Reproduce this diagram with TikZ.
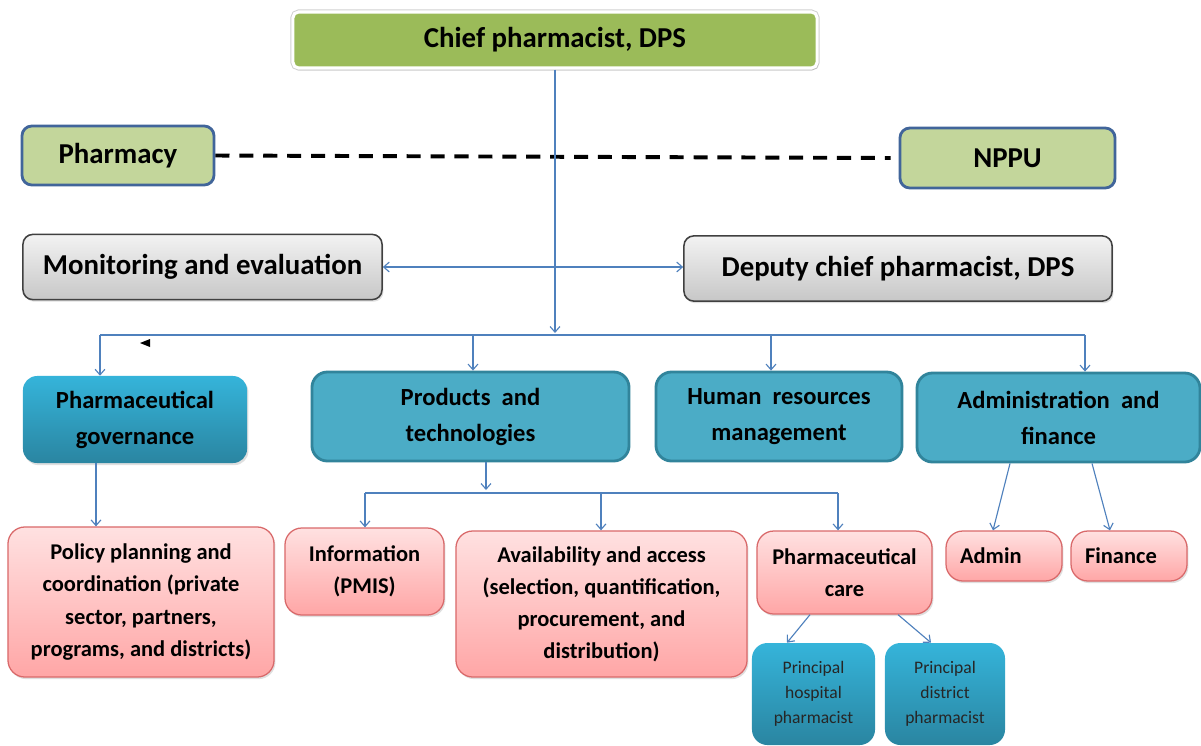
\documentclass[tikz,border=0pt]{standalone}
\usepackage{fontspec}
\setmainfont{Carlito}
\usepackage{tikz}
\usetikzlibrary{arrows.meta}
\usetikzlibrary{shadows}

\definecolor{chiefgreen}{HTML}{9BBB59}
\definecolor{palegreen}{HTML}{C3D69B}
\definecolor{steelline}{HTML}{41659A}
\definecolor{unitblue}{HTML}{4BACC6}
\definecolor{unitline}{HTML}{31849B}
\definecolor{linkblue}{HTML}{4F81BD}
\definecolor{pinktop}{HTML}{FFE1E1}
\definecolor{pinkbot}{HTML}{FFA6A6}
\definecolor{pinkline}{HTML}{D9696A}
\definecolor{cyantop}{HTML}{35B4DA}
\definecolor{cyanbot}{HTML}{2A85A1}

\tikzset{
    softshadow/.style={drop shadow={opacity=0.25, shadow xshift=1pt, shadow yshift=-1.5pt}},
    chiefbox/.style={draw=white, line width=2.2pt, fill=chiefgreen, rounded corners=4pt,
        preaction={draw=black!18, line width=3.6pt},
        minimum width=13.1cm, minimum height=1.4cm, softshadow,
        font=\fontsize{20.5}{24}\selectfont\bfseries},
    linkbox/.style={draw=steelline, line width=2pt, fill=palegreen, rounded corners=7pt,
        minimum height=1.5cm, font=\fontsize{20.5}{24}\selectfont\bfseries},
    greybox/.style={draw=black!75, line width=1.1pt, top color=black!5, bottom color=black!22,
        rounded corners=7pt, minimum height=1.63cm, softshadow,
        font=\fontsize{20.5}{24}\selectfont\bfseries},
    govbox/.style={top color=cyantop, bottom color=cyanbot, rounded corners=10pt,
        minimum width=5.6cm, minimum height=2.175cm, align=center, softshadow,
        font=\fontsize{17.5}{25.6}\selectfont\bfseries},
    unitbox/.style={draw=unitline, line width=2pt, fill=unitblue, rounded corners=11pt,
        minimum height=2.225cm, align=center,
        font=\fontsize{17.5}{25.6}\selectfont\bfseries},
    pinkbox/.style={draw=pinkline, line width=0.9pt, top color=pinktop, bottom color=pinkbot,
        rounded corners=12pt, align=center, softshadow,
        font=\fontsize{16}{22.8}\selectfont\bfseries},
    principalbox/.style={top color=cyantop, bottom color=cyanbot, rounded corners=11pt,
        minimum height=2.55cm, align=center, text=black!85,
        font=\fontsize{12.5}{17.8}\selectfont},
    conn/.style={draw=linkblue, line width=0.8pt},
    dashline/.style={draw=black, line width=2.8pt, dash pattern=on 10pt off 7pt}
}

\begin{document}
\begin{tikzpicture}[x=0.025cm, y=-0.025cm, >={Straight Barb[length=4pt,width=7pt]}]

    \fill[white] (0,0) rectangle (1201,745);
    \clip (0,0) rectangle (1201,745);

    % top of the chart
    \node[chiefbox] (chief) at (555,40) {Chief pharmacist, DPS};
    \node[linkbox, minimum width=4.8cm, minimum height=1.475cm] (pharmacy) at (118,155.5) {Pharmacy};
    \node[linkbox, minimum width=5.375cm] (nppu) at (1007.5,158) {NPPU};
    \node[greybox, minimum width=8.975cm] (monitor) at (202.5,267) {Monitoring and evaluation};
    \node[greybox, minimum width=10.7cm] (deputy) at (898,268.5) {Deputy chief pharmacist, DPS};

    % units
    \node[govbox] (pgov) at (135,419.5) {Pharmaceutical\\governance};
    \node[unitbox, minimum width=7.925cm] (products) at (470.5,416.5) {Products~ and\\technologies};
    \node[unitbox, minimum width=6.15cm] (hr) at (779,416.5) {Human~ resources\\management};
    \node[unitbox, minimum width=7.075cm] (adminfin) at (1058.5,417.5) {Administration~ and\\finance};

    % sections
    \node[pinkbox, minimum width=6.65cm, minimum height=3.75cm] (policy) at (141,602)
        {Policy planning and\\coordination (private\\sector, partners,\\programs, and districts)};
    \node[pinkbox, minimum width=3.975cm, minimum height=2.175cm] (info) at (364.5,571.5) {Information\\(PMIS)};
    \node[pinkbox, minimum width=7.275cm, minimum height=3.65cm] (avail) at (601.5,604)
        {Availability and access\\(selection, quantification,\\procurement, and\\distribution)};
    \node[pinkbox, minimum width=4.375cm, minimum height=2.075cm] (pcare) at (844.5,572.5) {Pharmaceutical\\care};
    \node[pinkbox, align=left, text width=2.2cm, inner xsep=0.35cm, minimum height=1.25cm] (admin) at (1004,556) {Admin};
    \node[pinkbox, align=left, text width=2.2cm, inner xsep=0.35cm, minimum height=1.25cm] (finance) at (1129,556) {Finance};
    \node[principalbox, minimum width=3.075cm] (phosp) at (813.5,694) {Principal\\hospital\\pharmacist};
    \node[principalbox, minimum width=3cm] (pdist) at (945,694) {Principal\\district\\pharmacist};

    % links
    \draw[dashline] (pharmacy.east) -- ([xshift=-0.2cm]nppu.west);
    \draw[conn,->] (chief.south) -- (chief.south |- 0,333);
    \draw[conn,<->] (monitor.east) -- (monitor.east -| deputy.west);
    \coordinate (busL) at (100,335);
    \coordinate (busR) at (1085,335);
    \draw[conn] (busL) -- (busR);
    \foreach \n/\x in {pgov/100, products/473, hr/771, adminfin/1085}
        \draw[conn,->] (\x,335) -- (\n.north -| \x,0);
    \fill (140,343) -- (150,339) -- (150,347) -- cycle;

    \draw[conn,->] (pgov.south -| 96,0) -- (policy.north -| 96,0);
    \draw[conn,->] (products.south -| 486,0) -- (486,490);
    \coordinate (bus2L) at (365,493);
    \coordinate (bus2R) at (838,493);
    \draw[conn] (bus2L) -- (bus2R);
    \foreach \n/\x in {info/365, avail/601, pcare/838}
        \draw[conn,->] (\x,493) -- (\n.north -| \x,0);

    \draw[conn,->] (adminfin.south -| 1010,0) -- (admin.north -| 993,0);
    \draw[conn,->] (adminfin.south -| 1092,0) -- (finance.north -| 1110,0);
    \draw[conn,->] (pcare.south -| 810,0) -- (phosp.north -| 787,0);
    \draw[conn,->] (pcare.south -| 898,0) -- (pdist.north -| 931,0);

\end{tikzpicture}
\end{document}
